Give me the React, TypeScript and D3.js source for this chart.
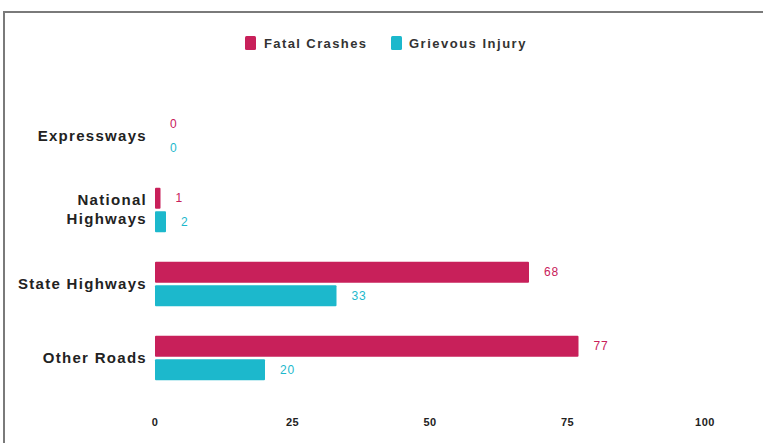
import React from "react";
import * as d3 from "d3";

const categories = ["Expressways", "National Highways", "State Highways", "Other Roads"];
const categoryLines = [["Expressways"], ["National", "Highways"], ["State Highways"], ["Other Roads"]];
const fatalCrashes = [0, 1, 68, 77];
const grievousInjury = [0, 2, 33, 20];
const seriesNames = ["Fatal Crashes", "Grievous Injury"];
const xTicks = [0, 25, 50, 75, 100];

const colors = ["#c8205a", "#1cb8cc"];

export default function App() {
  const width = 763;
  const height = 443;
  const x = d3.scaleLinear().domain([0, 100]).range([155, 705]);
  const y = d3.scaleBand<string>().domain(categories).range([99, 395]).paddingInner(0.4).paddingOuter(0.2);
  const sub = d3.scaleBand<number>().domain([0, 1]).range([0, y.bandwidth()]).paddingInner(0.1);
  const series = [fatalCrashes, grievousInjury];

  return (
    <svg width={width} height={height} style={{ position: "absolute", left: 0, top: 0, background: "#fff" }}
      fontFamily="'Liberation Sans', Arial, sans-serif">
      <rect x={4} y={12} width={800} height={500} fill="#fff" stroke="#7a7a7a" strokeWidth={2} />
      {/* legend */}
      <g>
        <rect x={245} y={36} width={11} height={14} rx={1.5} fill={colors[0]} />
        <text x={264} y={47.5} fontSize={13} fontWeight="bold" fill="#333" letterSpacing={1.4}>{seriesNames[0]}</text>
        <rect x={391} y={36} width={11} height={14} rx={1.5} fill={colors[1]} />
        <text x={409} y={47.5} fontSize={13} fontWeight="bold" fill="#333" letterSpacing={1.5}>{seriesNames[1]}</text>
      </g>
      {/* category labels */}
      {categories.map((c, i) => {
        const cy = (y(c) as number) + y.bandwidth() / 2;
        const lines = categoryLines[i];
        return (
          <text key={c} x={147} textAnchor="end" fontSize={15} fontWeight="bold" fill="#222" letterSpacing={1.3}>
            {lines.map((l, j) => (
              <tspan key={j} x={147} y={cy + 5 + (j - (lines.length - 1) / 2) * 19 - (lines.length > 1 ? 1 : 0)}>{l}</tspan>
            ))}
          </text>
        );
      })}
      {/* bars */}
      {series.map((vals, s) =>
        categories.map((c, i) => {
          const by = (y(c) as number) + (sub(s) as number);
          const bw = x(vals[i]) - x(0);
          return (
            <g key={c + s}>
              {vals[i] > 0 && (
                <rect x={x(0)} y={by} width={bw} height={sub.bandwidth()} fill={colors[s]} rx={1} />
              )}
              <text x={x(vals[i]) + 15} y={by + sub.bandwidth() / 2 + 4} fontSize={12} fill={colors[s]} letterSpacing={0.8}>
                {vals[i]}
              </text>
            </g>
          );
        })
      )}
      {/* x axis labels */}
      {xTicks.map((t) => (
        <text key={t} x={x(t)} y={426} textAnchor="middle" fontSize={11} fontWeight="bold" fill="#222" letterSpacing={0.5}>
          {t}
        </text>
      ))}
    </svg>
  );
}
